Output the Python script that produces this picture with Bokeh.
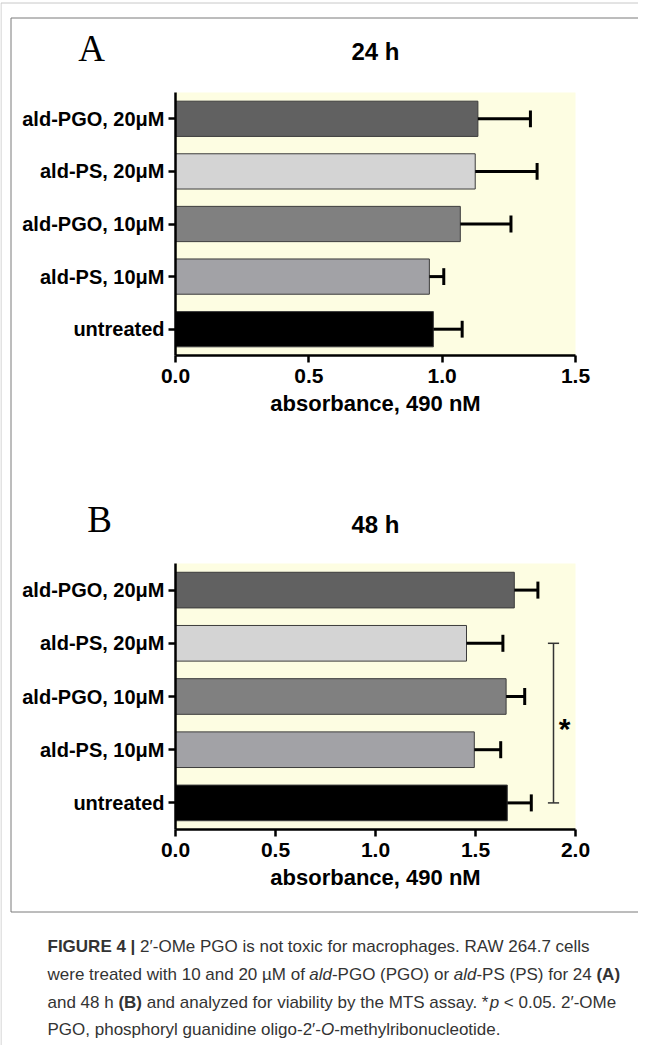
from bokeh.plotting import figure
from bokeh.models import Range1d, LinearAxis, FixedTicker
from bokeh.core.properties import value
from bokeh.embed import file_html
from bokeh.resources import INLINE

# ---------------- data ----------------
categories = ["ald-PGO, 20μM", "ald-PS, 20μM", "ald-PGO, 10μM", "ald-PS, 10μM", "untreated"]
bar_colors = ["#616161", "#d4d4d4", "#808080", "#a2a2a6", "#000000"]
abs_24h = [1.134, 1.124, 1.068, 0.952, 0.967]
err_24h = [0.197, 0.232, 0.190, 0.054, 0.108]
abs_48h = [1.694, 1.455, 1.653, 1.494, 1.659]
err_48h = [0.118, 0.182, 0.093, 0.132, 0.120]
ticks_24h = [0.0, 0.5, 1.0, 1.5]
ticks_48h = [0.0, 0.5, 1.0, 1.5, 2.0]
sig_48h = (1, 4)          # bracket ald-PS 20μM .. untreated (48 h)
sig_mark = "*"
x_title = "absorbance, 490 nM"

caption_lines = [
    [("FIGURE 4 |", "bold"), (" 2′-OMe PGO is not toxic for macrophages. RAW 264.7 cells", "normal")],
    [("were treated with 10 and 20 µM of ", "normal"), ("ald", "italic"), ("-PGO (PGO) or ", "normal"),
     ("ald", "italic"), ("-PS (PS) for 24 ", "normal"), ("(A)", "bold")],
    [("and 48 h ", "normal"), ("(B)", "bold"), (" and analyzed for viability by the MTS assay. *", "normal"),
     ("p", "italic"), (" < 0.05. 2′-OMe", "normal")],
    [("PGO, phosphoryl guanidine oligo-2′-", "normal"), ("O", "italic"), ("-methylribonucleotide.", "normal")],
]

# ---------------- page / layout ----------------
PAGE_W, PAGE_H, M = 646, 1053, 8
W, H = PAGE_W - M, PAGE_H - M
SANS = "Liberation Sans"
CAP_FONT = "Liberation Sans"

p = figure(width=W, height=H, output_backend="svg", toolbar_location=None,
           x_range=Range1d(M, PAGE_W), y_range=Range1d(PAGE_H, M),
           x_axis_type=None, y_axis_type=None, min_border=0)
p.outline_line_color = None
p.background_fill_color = "white"
p.border_fill_color = "white"

# frames
p.line(x=[PAGE_W, M + 0.5, M + 0.5], y=[10.5, 10.5, PAGE_H], line_color="#c8c8c8", line_width=1)
p.line(x=[PAGE_W, 18.5, 18.5, PAGE_W], y=[25.5, 25.5, 919.5, 919.5], line_color="#7a7a7a", line_width=1)


def lin_range(v0, p0, v1, p1, pa, pb):
    k = (v1 - v0) / (p1 - p0)
    return Range1d(start=v0 + (pa - p0) * k, end=v0 + (pb - p0) * k)


n = len(categories)
idx = list(range(n))
y_lo, y_hi = -0.5, n - 0.5
X0_PIX, X1_PIX = 183, 583

xr, yr = {}, {}


def panel(name, vals, errs, ticks, y_top_pix, y_bot_pix, letter, letter_xy, title, title_xy):
    xmax = ticks[-1]
    xr[name] = lin_range(0, X0_PIX, xmax, X1_PIX, M, PAGE_W)
    yr[name] = lin_range(y_lo, y_top_pix, y_hi, y_bot_pix, PAGE_H, M)
    kw = dict(x_range_name=name, y_range_name=name)
    p.quad(left=[0], right=[xmax], top=[y_lo], bottom=[y_hi], fill_color="#fdfde2",
           line_color=None, **kw)
    p.hbar(y=idx, left=0, right=vals, height=0.67, fill_color=bar_colors,
           line_color="#3c3c3c", line_width=1, **kw)
    tips = [v + e for v, e in zip(vals, errs)]
    p.segment(x0=vals, y0=idx, x1=tips, y1=idx, line_color="black", line_width=3, **kw)
    p.segment(x0=tips, y0=[i - 0.16 for i in idx], x1=tips, y1=[i + 0.16 for i in idx],
              line_color="black", line_width=3, **kw)

    yax = LinearAxis(fixed_location=0, bounds=(y_lo, y_hi),
                     ticker=FixedTicker(ticks=idx, minor_ticks=[]),
                     major_label_overrides={i: c for i, c in enumerate(categories)}, **kw)
    xax = LinearAxis(fixed_location=y_hi, bounds=(0, xmax),
                     ticker=FixedTicker(ticks=ticks, minor_ticks=[]),
                     major_label_overrides={t: f"{t:.1f}" for t in ticks},
                     axis_label=x_title, **kw)
    for ax in (yax, xax):
        ax.axis_line_width = 2.5
        ax.axis_line_color = "black"
        ax.major_tick_line_width = 2.5
        ax.major_tick_line_color = "black"
        ax.major_tick_out = 7
        ax.major_tick_in = 0
        ax.minor_tick_out = 0
        ax.minor_tick_in = 0
        ax.major_label_text_font = SANS
        ax.major_label_text_font_style = "bold"
        ax.major_label_text_color = "black"
    yax.major_label_text_font_size = "20px"
    xax.major_label_text_font_size = "21px"
    yax.major_label_standoff = 4
    xax.major_label_standoff = 6
    xax.axis_label_text_font = SANS
    xax.axis_label_text_font_style = "bold"
    xax.axis_label_text_font_size = "22px"
    xax.axis_label_text_color = "black"
    xax.axis_label_standoff = 5
    p.add_layout(yax, "left")
    p.add_layout(xax, "below")

    p.text(x=[letter_xy[0]], y=[letter_xy[1]], text=[letter], text_font=value("Liberation Serif"),
           text_font_size="37px", text_align="center", text_baseline="middle", text_color="black")
    p.text(x=[title_xy[0]], y=[title_xy[1]], text=[title], text_font=value(SANS),
           text_font_style="bold", text_font_size="24px", text_align="center",
           text_baseline="middle", text_color="black")


panel("a", abs_24h, err_24h, ticks_24h, 100, 363, "A", (99, 56), "24 h", (383, 59))
panel("b", abs_48h, err_48h, ticks_48h, 571, 837, "B", (107, 527), "48 h", (383, 532))
p.extra_x_ranges = xr
p.extra_y_ranges = yr

# significance bracket (48 h)
s0, s1 = sig_48h
bx = 1.89
cap = 0.028
p.segment(x0=[bx, bx - cap, bx - cap], y0=[s0, s0, s1], x1=[bx, bx + cap, bx + cap], y1=[s1, s0, s1],
          line_color="#333333", line_width=1.5, x_range_name="b", y_range_name="b")
p.text(x=[bx + 0.055], y=[(s0 + s1) / 2 + 0.1], text=[sig_mark], text_font=value(SANS),
       text_font_style="bold", text_font_size="30px", text_align="center", text_baseline="middle",
       text_color="black", x_range_name="b", y_range_name="b")

# ---------------- caption ----------------
REG = dict(zip("abcdefghijklmnopqrstuvwxyz",
               [556, 556, 500, 556, 556, 278, 556, 556, 222, 222, 500, 222, 833, 556, 556, 556, 556,
                333, 500, 278, 556, 500, 722, 500, 500, 500]))
REG.update(dict(zip("ABCDEFGHIJKLMNOPQRSTUVWXYZ",
                    [667, 667, 722, 722, 667, 611, 778, 722, 278, 500, 667, 556, 833, 722, 778, 667,
                     778, 722, 667, 611, 722, 667, 944, 667, 667, 611])))
REG.update({c: 556 for c in "0123456789"})
REG.update({" ": 278, ".": 278, ",": 278, "-": 333, "(": 333, ")": 333, "|": 260, "′": 190,
            "µ": 556, "*": 389, "<": 584})
BOLD = dict(REG)
BOLD.update(dict(zip("ABCDEFGHIJKLMNOPQRSTUVWXYZ",
                     [722, 722, 722, 722, 667, 611, 778, 722, 278, 556, 722, 611, 833, 722, 778, 667,
                      778, 722, 667, 611, 722, 667, 944, 667, 667, 611])))
BOLD.update({"|": 280})
CAP_SIZE = 17


def tw(s, style):
    tab = BOLD if style == "bold" else REG
    return sum(tab.get(ch, 556) for ch in s) / 1000 * CAP_SIZE


cap_y = [954, 982, 1010, 1037]
groups = {"normal": ([], [], []), "bold": ([], [], []), "italic": ([], [], [])}
for line, yy in zip(caption_lines, cap_y):
    x = 55
    for seg, style in line:
        lead = len(seg) - len(seg.lstrip(" "))
        txt = seg.strip(" ")
        if txt:
            g = groups[style]
            g[0].append(x + tw(" " * lead, style))
            g[1].append(yy)
            g[2].append(txt)
        x += tw(seg, style)
for style, (xs, ys, ts) in groups.items():
    if xs:
        p.text(x=xs, y=ys, text=ts, text_font=value(CAP_FONT), text_font_style=style,
               text_font_size=f"{CAP_SIZE}px", text_color="#333333", text_align="left",
               text_baseline="middle")

open("out.html", "w").write(file_html(p, INLINE))
